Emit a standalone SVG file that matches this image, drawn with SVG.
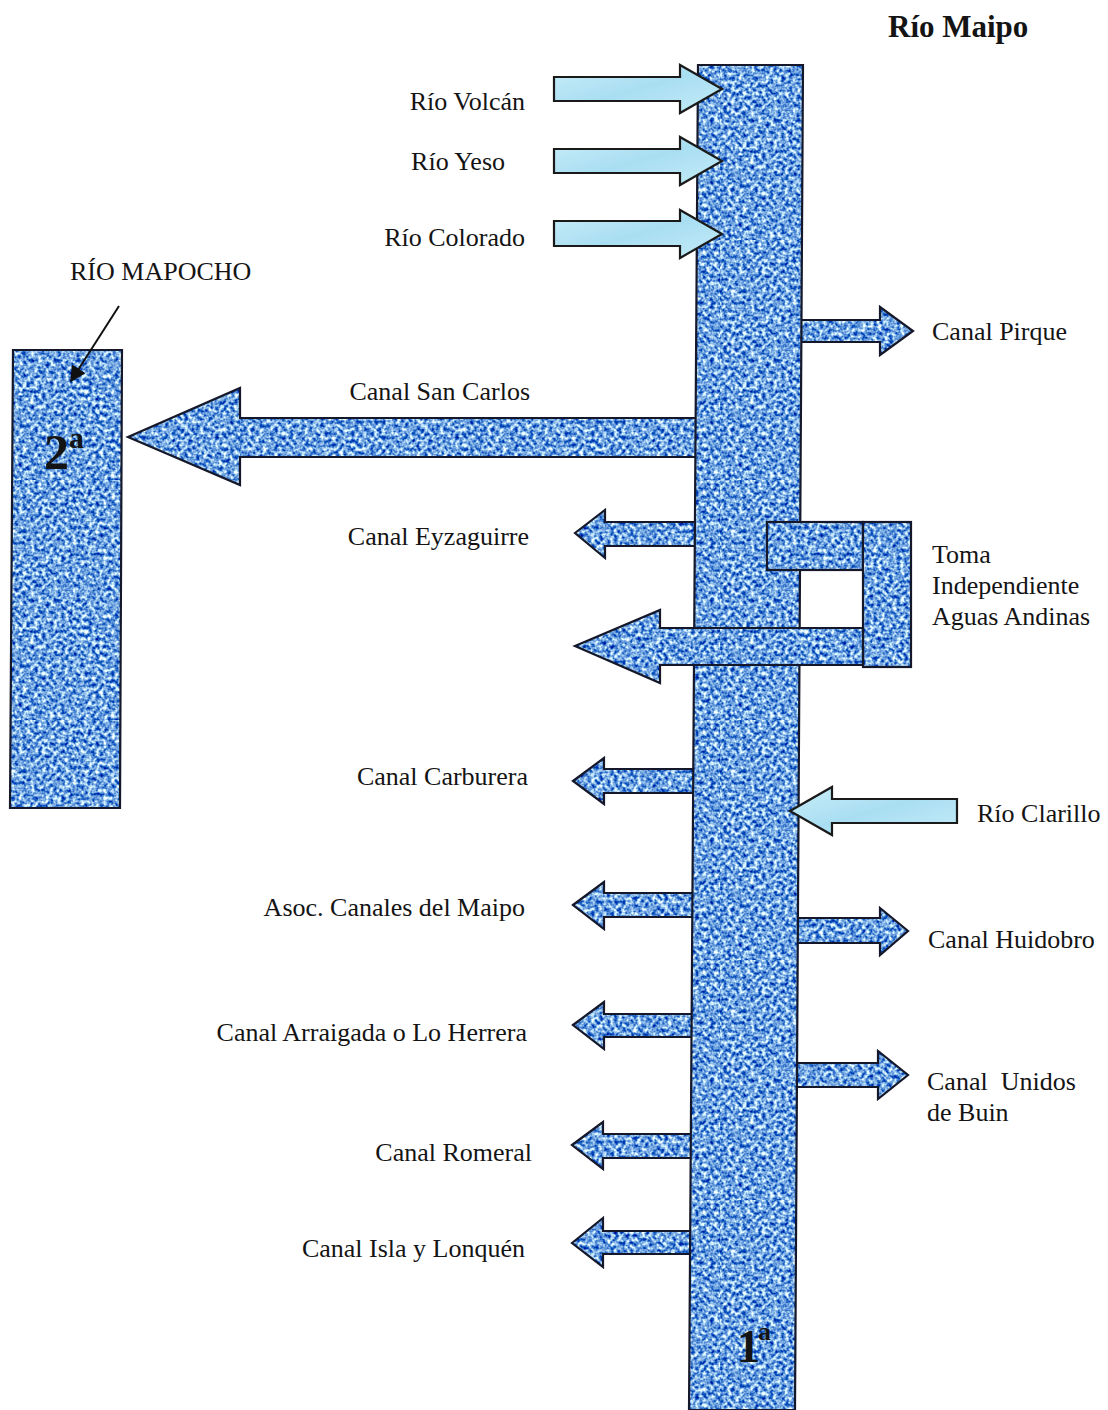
<svg xmlns="http://www.w3.org/2000/svg" width="1108" height="1410" viewBox="0 0 1108 1410">
<defs>
  <filter id="noise" x="0" y="0" width="100%" height="100%" color-interpolation-filters="sRGB">
    <feTurbulence type="fractalNoise" baseFrequency="0.26" numOctaves="2" seed="7" result="n"/>
    <feColorMatrix in="n" type="matrix" values="2.1 0 0 0 -0.62  1.7 0 0 0 -0.22  0.7 0 0 0 0.52  0 0 0 0 1"/>
  </filter>
  <pattern id="tex" patternUnits="userSpaceOnUse" width="240" height="240">
    <rect width="240" height="240" filter="url(#noise)"/>
  </pattern>
  <linearGradient id="light" x1="0" y1="0" x2="1" y2="1">
    <stop offset="0" stop-color="#c9eef8"/>
    <stop offset="0.5" stop-color="#a9def2"/>
    <stop offset="1" stop-color="#c4ecf8"/>
  </linearGradient>
  <marker id="ah" viewBox="0 0 10 10" refX="9" refY="5" markerWidth="8" markerHeight="8" orient="auto" markerUnits="strokeWidth">
    <path d="M0,0 L10,5 L0,10 z" fill="#111"/>
  </marker>
  <style>
    .w{fill:url(#tex);stroke:#14182a;stroke-width:2.2;stroke-linejoin:miter}
    .l{fill:url(#light);stroke:#1a1a1a;stroke-width:2.2}
    text{font-family:"Liberation Serif","Times New Roman",serif;font-size:26px;fill:#141414}
    .e{text-anchor:end}
    .b{font-weight:bold}
  </style>
</defs>
<rect width="1108" height="1410" fill="#ffffff"/>

<g id="outflows">
  <polygon id="canal-pirque" class="w" points="795,320 880,320 880,307 913,331 880,355 880,342 795,342"/>
  <polygon id="canal-san-carlos" class="w" points="128,437 240,388 240,418 700,418 700,457 240,457 240,485"/>
  <polygon id="canal-eyzaguirre" class="w" points="575,533 605,510 605,522 700,522 700,546 605,546 605,558"/>
  <polygon id="canal-carburera" class="w" points="573,781 604,758 604,769 700,769 700,793 604,793 604,804"/>
  <polygon id="asoc-canales" class="w" points="573,905 604,882 604,893 700,893 700,917 604,917 604,929"/>
  <polygon id="canal-huidobro" class="w" points="785,918 880,918 880,908 908,931 880,955 880,943 785,943"/>
  <polygon id="canal-arraigada" class="w" points="573,1025 604,1002 604,1014 700,1014 700,1037 604,1037 604,1049"/>
  <polygon id="canal-unidos" class="w" points="785,1063 878,1063 878,1051 908,1075 878,1099 878,1087 785,1087"/>
  <polygon id="canal-romeral" class="w" points="572,1145 603,1122 603,1134 700,1134 700,1158 603,1158 603,1169"/>
  <polygon id="canal-isla" class="w" points="572,1243 603,1218 603,1231 700,1231 700,1254 603,1254 603,1267"/>
</g>

<g id="rio-maipo-node">
  <polygon id="rio-maipo" class="w" points="698,65 803,65 795,1410 689,1410"/>
  <text x="737" y="1362" class="b" style="font-size:46px">1</text>
  <text x="758" y="1340" class="b" style="font-size:26px">a</text>
</g>

<g id="rio-mapocho-node">
  <polygon id="rio-mapocho" class="w" points="13,350 122,350 120,808 10,808"/>
  <text x="44" y="469" class="b" style="font-size:50px">2</text>
  <text x="69" y="448" class="b" style="font-size:30px">a</text>
</g>

<g id="inflows">
  <polygon id="rio-volcan" class="l" points="554,77 680,77 680,65 722,89 680,113 680,101 554,101"/>
  <polygon id="rio-yeso" class="l" points="554,149 680,149 680,137 722,161 680,185 680,173 554,173"/>
  <polygon id="rio-colorado" class="l" points="554,221 680,221 680,210 722,234 680,258 680,246 554,246"/>
  <polygon id="rio-clarillo" class="l" points="790,811 832,787 832,799 957,799 957,823 832,823 832,835"/>
</g>

<g id="toma-independiente">
  <rect class="w" x="767" y="522" width="96" height="48"/>
  <rect class="w" x="863" y="522" width="48" height="145"/>
  <polygon class="w" points="575,646 660,610 660,628 863,628 863,665 660,665 660,683"/>
</g>

<g id="connectors">
  <line x1="119" y1="306" x2="71" y2="381" stroke="#111" stroke-width="2" marker-end="url(#ah)"/>
</g>

<g id="labels">
  <text x="888" y="37" class="b" style="font-size:31px">Río Maipo</text>
  <text x="525" y="110" class="e">Río Volcán</text>
  <text x="505" y="170" class="e">Río Yeso</text>
  <text x="525" y="246" class="e">Río Colorado</text>
  <text x="70" y="280">RÍO MAPOCHO</text>
  <text x="932" y="340">Canal Pirque</text>
  <text x="530" y="400" class="e">Canal San Carlos</text>
  <text x="529" y="545" class="e">Canal Eyzaguirre</text>
  <text x="932" y="563">Toma</text>
  <text x="932" y="594">Independiente</text>
  <text x="932" y="625">Aguas Andinas</text>
  <text x="528" y="785" class="e">Canal Carburera</text>
  <text x="977" y="822">Río Clarillo</text>
  <text x="525" y="916" class="e">Asoc. Canales del Maipo</text>
  <text x="928" y="948">Canal Huidobro</text>
  <text x="527" y="1041" class="e">Canal Arraigada o Lo Herrera</text>
  <text x="927" y="1090" xml:space="preserve">Canal  Unidos</text>
  <text x="927" y="1121">de Buin</text>
  <text x="532" y="1161" class="e">Canal Romeral</text>
  <text x="525" y="1257" class="e">Canal Isla y Lonquén</text>
</g>
</svg>
